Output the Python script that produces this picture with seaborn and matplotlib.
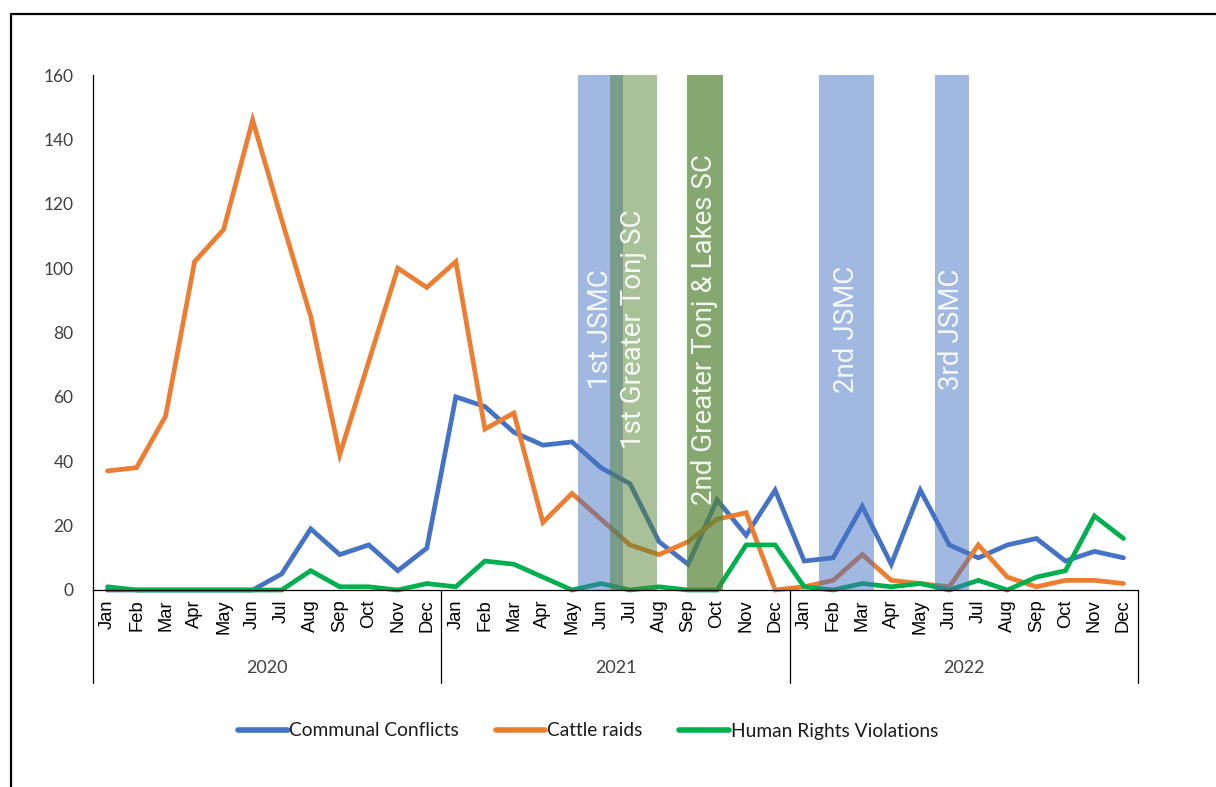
import numpy as np
import pandas as pd
import seaborn as sns
import matplotlib
matplotlib.use("Agg")
import matplotlib.pyplot as plt
from matplotlib.lines import Line2D
from matplotlib.transforms import blended_transform_factory

# ---- data -------------------------------------------------------------
years = ["2020", "2021", "2022"]
months = ["Jan", "Feb", "Mar", "Apr", "May", "Jun",
          "Jul", "Aug", "Sep", "Oct", "Nov", "Dec"]

communal_conflicts = [0, 0, 0, 0, 0, 0, 5, 19, 11, 14, 6, 13,
                      60, 57, 49, 45, 46, 38, 33, 15, 8, 28, 17, 31,
                      9, 10, 26, 8, 31, 14, 10, 14, 16, 9, 12, 10]
cattle_raids = [37, 38, 54, 102, 112, 146, 115, 85, 42, 71, 100, 94,
                102, 50, 55, 21, 30, 22, 14, 11, 15, 22, 24, 0,
                1, 3, 11, 3, 2, 1, 14, 4, 1, 3, 3, 2]
human_rights_violations = [1, 0, 0, 0, 0, 0, 0, 6, 1, 1, 0, 2,
                           1, 9, 8, 4, 0, 2, 0, 1, 0, 0, 14, 14,
                           1, 0, 2, 1, 2, 0, 3, 0, 4, 6, 23, 16]

series_names = ["Communal Conflicts", "Cattle raids", "Human Rights Violations"]
series_colors = ["#4472C4", "#ED7D31", "#00B050"]

# meetings / peace conferences shown as shaded periods (month index units)
event_labels = ["1st JSMC", "1st Greater Tonj SC", "2nd Greater Tonj & Lakes SC",
                "2nd JSMC", "3rd JSMC"]
event_start = [16.21, 17.31, 19.95, 24.52, 28.51]
event_end = [17.76, 18.92, 21.21, 26.40, 29.67]
event_colors = ["#4472C4", "#548235", "#548235", "#4472C4", "#4472C4"]
event_alpha = [0.5, 0.5, 0.7, 0.5, 0.5]

# ---- long-form frame ----------------------------------------------------
n = len(communal_conflicts)
idx = np.arange(n)
df = pd.DataFrame({
    "idx": np.tile(idx, 3),
    "value": communal_conflicts + cattle_raids + human_rights_violations,
    "series": np.repeat(series_names, n),
})

sns.set_theme(style="white")
plt.rcParams["font.family"] = ["Lato", "DejaVu Sans"]

fig = plt.figure(figsize=(12.16, 7.87), dpi=100)
ax = fig.add_axes([93 / 1216, 1 - 590 / 787, (1138 - 93) / 1216, (590 - 75) / 787])

sns.lineplot(data=df, x="idx", y="value", hue="series", hue_order=series_names,
             palette=series_colors, linewidth=3.4, ax=ax, zorder=2)
for ln in ax.lines:
    ln.set_clip_on(False)
    ln.set_solid_joinstyle("miter")
    ln.set_solid_capstyle("round")

# shaded event bands with vertical captions
for lab, s, e, c, a in zip(event_labels, event_start, event_end, event_colors, event_alpha):
    ax.axvspan(s, e, ymin=0, ymax=1, color=c, alpha=a, lw=0, zorder=3)
    ax.text((s + e) / 2, 81, lab, rotation=90, ha="center", va="center",
            color="white", alpha=0.9, fontsize=20, family=["Roboto", "DejaVu Sans"],
            zorder=4)

ax.set_xlim(-0.5, n - 0.5)
ax.set_ylim(0, 160)
ax.set_yticks(np.arange(0, 161, 20))
ax.tick_params(axis="y", length=0, pad=14, labelsize=12.5, labelcolor="#404040")
ax.set_xticks(idx)
ax.set_xticklabels(months * len(years), rotation=90, fontsize=13.2,
                   family=["Liberation Sans", "DejaVu Sans"], color="black")
ax.tick_params(axis="x", length=0, pad=7)
ax.set_xlabel("")
ax.set_ylabel("")

for side in ["top", "right"]:
    ax.spines[side].set_visible(False)
for side in ["left", "bottom"]:
    ax.spines[side].set_color("black")
    ax.spines[side].set_linewidth(0.9)
ax.spines["bottom"].set_zorder(5)

# year grouping under the month labels
depth = (683 - 590) / 515
for b in [-0.5, 11.5, 23.5, 35.5]:
    ax.axvline(b, ymin=-depth, ymax=0, color="black", lw=0.9, clip_on=False)
trans = blended_transform_factory(ax.transData, ax.transAxes)
for i, y in enumerate(years):
    ax.text(i * 12 + 5.5, -(668 - 590) / 515, y, transform=trans, ha="center",
            va="center", fontsize=13, color="#404040")

# legend below the chart
sns.move_legend(ax, "center", bbox_to_anchor=((588 - 93) / 1045, -(731 - 590) / 515),
                ncol=3, frameon=False, title=None, fontsize=13.8,
                handlelength=2.6, handletextpad=0.1, columnspacing=1.9)
for t in ax.get_legend().get_texts():
    t.set_color("#1a1a1a")
for h in ax.get_legend().legend_handles:
    h.set_linewidth(4)

# outer frame
fig.add_artist(Line2D([11 / 1216, 1.0], [1 - 14 / 787, 1 - 14 / 787],
                      transform=fig.transFigure, color="black", lw=1.6))
fig.add_artist(Line2D([11 / 1216, 11 / 1216], [0.0, 1 - 14 / 787],
                      transform=fig.transFigure, color="black", lw=1.6))

fig.savefig("out.png", dpi=100, facecolor="white")
